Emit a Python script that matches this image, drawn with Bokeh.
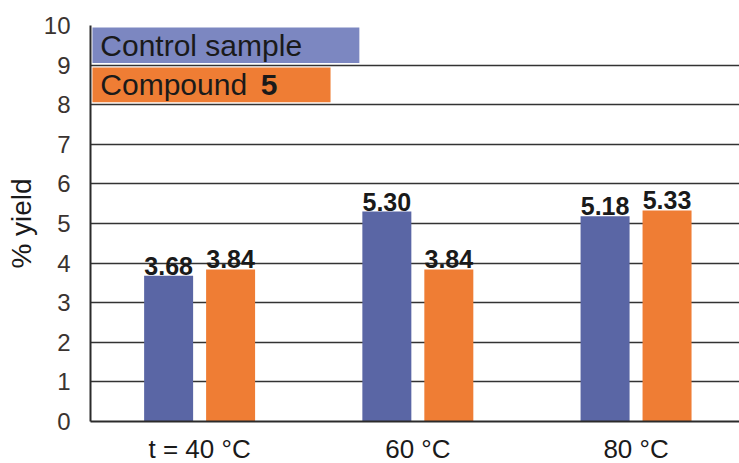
from bokeh.plotting import figure
from bokeh.models import Range1d, FixedTicker, ColumnDataSource
from bokeh.core.properties import value
from bokeh.embed import file_html
from bokeh.resources import INLINE

# ---- data ----
groups = ["t = 40 \u00b0C", "60 \u00b0C", "80 \u00b0C"]
control = [3.68, 5.30, 5.18]
compound5 = [3.84, 3.84, 5.33]
control_labels = ["3.68", "5.30", "5.18"]
compound_labels = ["3.84", "3.84", "5.33"]
y_ticks = list(range(0, 11))

BLUE = "#5a66a5"
ORANGE = "#ef7d34"
LEG_BLUE = "#7c87c1"
FONT = "Liberation Sans"

centers = [i + 0.5 for i in range(len(groups))]
off = 0.142
bw = 0.2245

p = figure(frame_width=649, frame_height=396, output_backend="svg", toolbar_location=None,
           x_range=Range1d(0, 2.974), y_range=Range1d(0, 10),
           min_border_left=90, min_border_right=0, min_border_top=25, min_border_bottom=42)
p.outline_line_color = None
p.background_fill_color = "white"
p.border_fill_color = "white"

src_c = ColumnDataSource(dict(x=[c - off for c in centers], top=control, lab=control_labels))
src_o = ColumnDataSource(dict(x=[c + off for c in centers], top=compound5, lab=compound_labels))

p.vbar(x="x", top="top", bottom=0, width=bw, source=src_c, fill_color=BLUE, line_color=None)
p.vbar(x="x", top="top", bottom=0, width=bw, source=src_o, fill_color=ORANGE, line_color=None)

for src in (src_c, src_o):
    p.text(x="x", y="top", text="lab", source=src, text_align="center", text_baseline="bottom",
           y_offset=-1, text_font=value(FONT), text_font_style="bold", text_font_size="25px",
           text_color="#1a1a1a")

# legend boxes (drawn inside plot like the original)
p.quad(left=[0.009], right=[1.232], bottom=[9.05], top=[9.95], fill_color=LEG_BLUE, line_color=None)
p.quad(left=[0.009], right=[1.100], bottom=[8.06], top=[8.94], fill_color=ORANGE, line_color=None)
p.text(x=[0.045], y=[9.5], text=["Control sample"], text_baseline="middle", text_align="left",
       text_font=value(FONT), text_font_size="30px", text_color="#1a1a1a")
p.text(x=[0.045], y=[8.5], text=["Compound"], text_baseline="middle", text_align="left",
       text_font=value(FONT), text_font_size="30px", text_color="#1a1a1a")
p.text(x=[0.780], y=[8.5], text=["5"], text_baseline="middle", text_align="left",
       text_font=value(FONT), text_font_size="30px", text_font_style="bold", text_color="#1a1a1a")

# axes
p.xaxis.ticker = FixedTicker(ticks=centers)
p.xaxis.major_label_overrides = {c: g for c, g in zip(centers, groups)}
p.xaxis.major_tick_line_color = None
p.xaxis.major_tick_out = 0
p.xaxis.major_tick_in = 0
p.xaxis.minor_tick_line_color = None
p.xaxis.minor_tick_out = 0
p.xaxis.major_label_text_font = FONT
p.xaxis.major_label_text_font_size = "26px"
p.xaxis.major_label_text_color = "#1a1a1a"
p.xaxis.major_label_standoff = 12
p.xaxis.axis_line_color = "#2b2b2b"
p.xaxis.axis_line_width = 2

p.yaxis.ticker = FixedTicker(ticks=y_ticks)
p.yaxis.major_tick_line_color = None
p.yaxis.major_tick_out = 0
p.yaxis.major_tick_in = 0
p.yaxis.minor_tick_line_color = None
p.yaxis.minor_tick_out = 0
p.yaxis.major_label_text_font = FONT
p.yaxis.major_label_text_font_size = "24px"
p.yaxis.major_label_text_color = "#3a3330"
p.yaxis.major_label_standoff = 20
p.yaxis.axis_line_color = "#2b2b2b"
p.yaxis.axis_line_width = 2
p.yaxis.axis_label = "% yield"
p.yaxis.axis_label_text_font = FONT
p.yaxis.axis_label_text_font_size = "28px"
p.yaxis.axis_label_text_font_style = "normal"
p.yaxis.axis_label_text_color = "#1a1a1a"
p.yaxis.axis_label_standoff = 4

p.xgrid.grid_line_color = None
p.ygrid.grid_line_color = "#333333"
p.ygrid.grid_line_width = 1.6

open("out.html", "w").write(file_html(p, INLINE))
